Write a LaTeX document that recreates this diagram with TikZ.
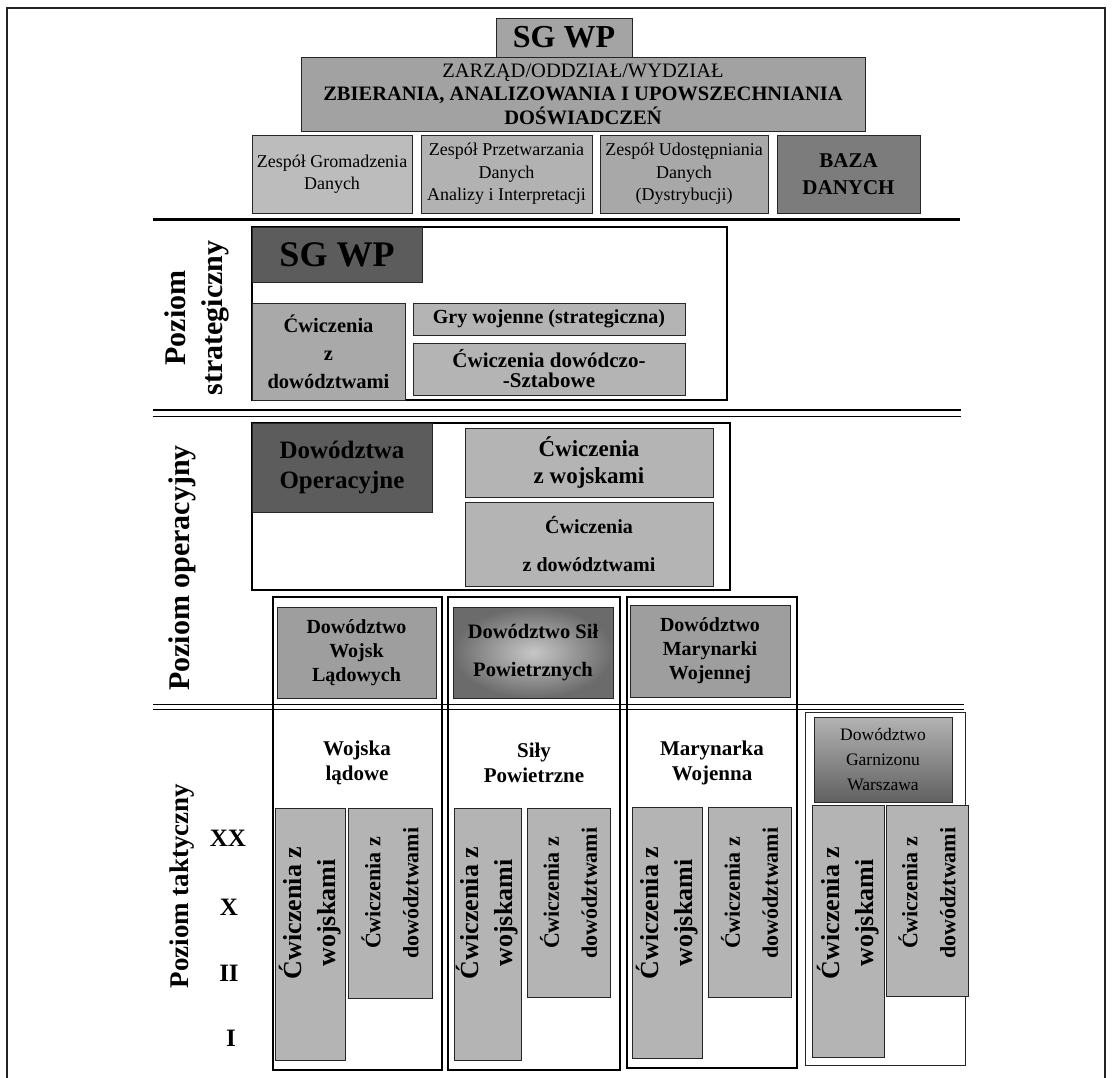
\documentclass[tikz,border=0pt]{standalone}
\usepackage{fontspec}
\setmainfont{Liberation Serif}
\definecolor{cZar}{HTML}{A2A2A2}
\definecolor{cSgTop}{HTML}{A4A4A4}
\definecolor{cZ1}{HTML}{BCBCBC}
\definecolor{cZ2}{HTML}{B2B2B2}
\definecolor{cZ3}{HTML}{A8A8A8}
\definecolor{cBaza}{HTML}{7C7C7C}
\definecolor{cDark}{HTML}{5C5C5C}
\definecolor{cLight}{HTML}{B4B4B4}
\definecolor{cMid}{HTML}{A9A9A9}
\definecolor{cDow}{HTML}{9E9E9E}
\definecolor{cFrame}{HTML}{222222}
\newcommand\fs[2]{\fontsize{#1}{#2}\selectfont}
\tikzset{
  rc/.style args={#1/#2/#3/#4}{minimum width={(#3)-(#1)}, minimum height={(#4)-(#2)},
     at={({((#1)+(#3))/2},{((#2)+(#4))/2})}},
  bx/.style={draw=black!85, line width=1pt, inner sep=0pt, outer sep=0pt, align=center},
  obx/.style={draw=black, line width=2pt, inner sep=0pt, outer sep=0pt},
  tbx/.style={draw=black!85, line width=1pt, inner sep=0pt, outer sep=0pt},
  lbl/.style={rotate=90, align=center, inner sep=0pt},
  vtxt/.style={rotate=90, align=center, inner sep=0pt},
  rank/.style={font={\fs{25}{25}\bfseries}, inner sep=0pt},
  txt/.style={align=center, inner sep=0pt},
}
\begin{document}
\begin{tikzpicture}[x=1pt,y=-1pt]
\useasboundingbox (0,0) rectangle (1116,1077);
\fill[white] (0,0) rectangle (1116,1077);
% outer frame
\coordinate (fbl) at (7,1100);
\coordinate (ftl) at (7,8);
\coordinate (ftr) at (1105,8);
\coordinate (fbr) at (1105,1100);
\draw[line width=1.5pt, cFrame] (fbl) -- (ftl) -- (ftr) -- (fbr);

% ---------------- top block ----------------
\node[bx, fill=cZar, rc=301/57/865/131, font={\fs{20.5}{23.5}}] (zarz)
  {ZARZĄD/ODDZIAŁ/WYDZIAŁ\\\textbf{ZBIERANIA, ANALIZOWANIA I UPOWSZECHNIANIA}\\\textbf{DOŚWIADCZEŃ}};
\node[bx, fill=cSgTop, rc=496/18/632/57, font={\fs{32}{32}\bfseries}] (sgtop) {SG WP};
\node[bx, fill=cZ1, rc=252/135/412/213, font={\fs{18}{22.5}}] (z1) {Zespół Gromadzenia\\Danych};
\node[bx, fill=cZ2, rc=421/135/592/213, font={\fs{18}{22.5}}] (z2) {Zespół Przetwarzania\\Danych\\Analizy i Interpretacji};
\node[bx, fill=cZ3, rc=600/135/768/213, font={\fs{18}{22.5}}] (z3) {Zespół Udostępniania\\Danych\\(Dystrybucji)};
\node[bx, fill=cBaza, rc=777/135/920/213, font={\fs{21}{27}\bfseries}] (baza) {BAZA\\DANYCH};

% separator 1
\coordinate (s1a) at (153,219.5);
\coordinate (s1b) at (960,219.5);
\draw[line width=2.6pt] (s1a) -- (s1b);

% ---------------- strategic ----------------
\node[lbl, font={\fs{30}{37}\bfseries}] (lstrat) at (196.5,318) {Poziom\\strategiczny};
\node[obx, rc=252/227/727/400] (strat) {};
\node[bx, fill=cDark, rc=252/227/422/282, font={\fs{36}{36}\bfseries}] (sgs) {SG WP};
\node[bx, fill=cMid, rc=252/303/405/400, font={\fs{20.5}{28}\bfseries}] (scw) {Ćwiczenia\\z\\dowództwami};
\node[bx, fill=cLight, rc=413/303/685/335, font={\fs{20}{20}\bfseries}] (sgry) {Gry wojenne (strategiczna)};
\node[bx, fill=cLight, rc=413/343/685/395, font={\fs{21}{20}\bfseries}] (ssz) {Ćwiczenia dowódczo-\\-Sztabowe};

% separator 2 (double)
\coordinate (s2a) at (153,410);
\coordinate (s2b) at (961,410);
\coordinate (s2c) at (153,416.5);
\coordinate (s2d) at (961,416.5);
\draw[line width=2pt] (s2a) -- (s2b);
\draw[line width=1.2pt] (s2c) -- (s2d);

% ---------------- operational ----------------
\node[lbl, font={\fs{30}{30}\bfseries}] (lop) at (182,568) {Poziom operacyjny};
\node[obx, rc=252/423/730/590] (oper) {};
\node[bx, fill=cDark, rc=252/423/432/512, font={\fs{25}{30}\bfseries}, text=black] (dop) {Dowództwa\\Operacyjne};
\node[bx, fill=cLight, rc=465/428/713/497, font={\fs{23}{27}\bfseries}] (ocw1) {Ćwiczenia\\z wojskami};
\node[bx, fill=cLight, rc=465/502/713/586, font={\fs{20}{38}\bfseries}] (ocw2) {Ćwiczenia\\z dowództwami};

% ---------------- columns ----------------
\node[obx, rc=273/597/442/1070] (col1) {};
\node[obx, rc=448/597/620/1070] (col2) {};
\node[obx, rc=627/597/797/1068] (col3) {};
\node[tbx, rc=805/712/965/1065] (col4) {};

\node[bx, fill=cDow, rc=277/607/436/698, font={\fs{20}{24}\bfseries}] (dwl) {Dowództwo\\Wojsk\\Lądowych};
\node[bx, inner color=black!22, outer color=black!58, rc=453/607/613/698, font={\fs{20.5}{38}\bfseries}] (dsp) {Dowództwo Sił\\Powietrznych};
\node[bx, fill=cDow, rc=630/605/790/697, font={\fs{20}{24}\bfseries}] (dmw) {Dowództwo\\Marynarki\\Wojennej};
\node[bx, top color=black!30, bottom color=black!62, rc=814/717/952/802, font={\fs{17.5}{25}}] (dgw) {Dowództwo\\Garnizonu\\Warszawa};

% separator 3 (double)
\coordinate (s3a) at (153,704.5);
\coordinate (s3b) at (964,704.5);
\coordinate (s3c) at (153,709.5);
\coordinate (s3d) at (964,709.5);
\draw[line width=1.6pt] (s3a) -- (s3b);
\draw[line width=1.2pt] (s3c) -- (s3d);

% ---------------- tactical ----------------
\node[lbl, font={\fs{27}{27}\bfseries}] (ltak) at (182,886) {Poziom taktyczny};
\node[rank] (rxx) at (228,838) {XX};
\node[rank] (rx) at (229,907) {X};
\node[rank] (rii) at (229,973) {II};
\node[rank] (ri) at (231,1038) {I};

\node[txt, font={\fs{21}{25}\bfseries}] (twl) at (357,763) {Wojska\\lądowe};
\node[txt, font={\fs{21}{25}\bfseries}] (tsp) at (534,763) {Siły\\Powietrzne};
\node[txt, font={\fs{21}{25}\bfseries}] (tmw) at (712,763) {Marynarka\\Wojenna};

\node[tbx, fill=cLight, rc=275/808/345/1060] (v1a) {};
\node[tbx, fill=cLight, rc=348/808/432/998] (v1b) {};
\node[tbx, fill=cLight, rc=454/808/521/1060] (v2a) {};
\node[tbx, fill=cLight, rc=527/808/610/997] (v2b) {};
\node[tbx, fill=cLight, rc=632/807/702/1058] (v3a) {};
\node[tbx, fill=cLight, rc=708/807/791/997] (v3b) {};
\node[tbx, fill=cLight, rc=812/805/884/1057] (v4a) {};
\node[tbx, fill=cLight, rc=886/805/968/996] (v4b) {};

\node[vtxt, font={\fs{26}{34}\bfseries}] (t1a) at (310,913) {Ćwiczenia z\\wojskami};
\node[vtxt, font={\fs{22}{38}\bfseries}] (t1b) at (390,893) {Ćwiczenia z\\dowództwami};
\node[vtxt, font={\fs{26}{34}\bfseries}] (t2a) at (487.5,913) {Ćwiczenia z\\wojskami};
\node[vtxt, font={\fs{22}{38}\bfseries}] (t2b) at (568.5,893) {Ćwiczenia z\\dowództwami};
\node[vtxt, font={\fs{26}{34}\bfseries}] (t3a) at (667,913) {Ćwiczenia z\\wojskami};
\node[vtxt, font={\fs{22}{38}\bfseries}] (t3b) at (749.5,893) {Ćwiczenia z\\dowództwami};
\node[vtxt, font={\fs{26}{34}\bfseries}] (t4a) at (848,913) {Ćwiczenia z\\wojskami};
\node[vtxt, font={\fs{22}{38}\bfseries}] (t4b) at (927,893) {Ćwiczenia z\\dowództwami};
\end{tikzpicture}
\end{document}
